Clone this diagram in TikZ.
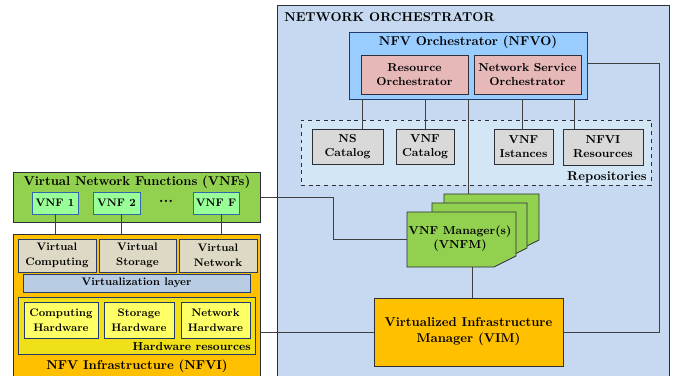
\documentclass[tikz,border=0pt]{standalone}
\definecolor{orchbg}{HTML}{C6D9F0}
\definecolor{nfvocol}{HTML}{99CCFF}
\definecolor{rocol}{HTML}{E6B8B7}
\definecolor{repocol}{HTML}{D3E6F5}
\definecolor{catcol}{HTML}{D9D9D9}
\definecolor{greencol}{HTML}{92D050}
\definecolor{orangecol}{HTML}{FFC000}
\definecolor{vnfcol}{HTML}{99FF99}
\definecolor{virtcol}{HTML}{DDD9C4}
\definecolor{layercol}{HTML}{B8CCE4}
\definecolor{hwrescol}{HTML}{EFE01A}
\definecolor{hwcol}{HTML}{FFFF66}
\definecolor{edgecol}{HTML}{2E2E38}
\definecolor{navy}{HTML}{1F3A6B}
\definecolor{bluedge}{HTML}{3366AA}
\definecolor{linecol}{HTML}{404040}
\newcommand\fsA{\fontsize{9}{11}\selectfont\bfseries}
\newcommand\fsB{\fontsize{8.5}{11.5}\selectfont\bfseries}
\newcommand\fsC{\fontsize{10}{12.5}\selectfont\bfseries}
\begin{document}
\begin{tikzpicture}[x=0.78pt,y=-0.78pt,
  box/.style={draw=edgecol, line width=0.6pt, inner sep=0pt, align=center},
  rect/.style n args={4}{minimum width={(#3-#1)*0.78pt}, minimum height={(#4-#2)*0.78pt},
     at={({(#1+#3)/2},{(#2+#4)/2})}},
  conn/.style={draw=linecol, line width=0.6pt},
  title/.style={inner sep=0pt, font=\fsC}]
\useasboundingbox (0,0) rectangle (678,376);
\clip (0,0) rectangle (678,376);

% ---------- Network orchestrator ----------
\node[box, fill=orchbg, rect={277}{5}{669}{420}] (orch) {};
\node[title, anchor=west] (orchT) at (284,17) {NETWORK ORCHESTRATOR};

\node[box, draw=navy, fill=nfvocol, rect={349}{32}{587}{99}] (nfvo) {};
\node[title] (nfvoT) at (468,42) {NFV Orchestrator (NFVO)};
\node[box, fill=rocol, font=\fsA, rect={361}{55}{468}{94}] (ro) {Resource\\Orchestrator};
\node[box, fill=rocol, font=\fsA, rect={474}{55}{581}{94}] (nso) {Network Service\\Orchestrator};

\node[box, dashed, fill=repocol, rect={301}{120}{651}{185}] (repo) {};
\node[title, anchor=east] (repoT) at (647,177) {Repositories};
\node[box, fill=catcol, font=\fsA, rect={312}{129}{383}{164}] (nsc) {NS\\Catalog};
\node[box, fill=catcol, font=\fsA, rect={396}{129}{454}{164}] (vnfc) {VNF\\Catalog};
\node[box, fill=catcol, font=\fsA, rect={494}{129}{553}{164}] (vnfi) {VNF\\Istances};
\node[box, fill=catcol, font=\fsA, rect={563}{129}{643}{165}] (nfvir) {NFVI\\Resources};

% VNF managers (stacked)
\coordinate (m1) at (468,0);
\draw[conn] (nfvo.south -| m1) -- (468,194);
\filldraw[fill=greencol, draw=edgecol, line width=0.6pt]
  (444,194) -- (539,194) -- (539,240) -- (517,251) -- (444,251) -- cycle;
\filldraw[fill=greencol, draw=edgecol, line width=0.6pt]
  (432,203) -- (527,203) -- (527,248) -- (505,259) -- (432,259) -- cycle;
\filldraw[fill=greencol, draw=edgecol, line width=0.6pt]
  (407,212) -- (516,212) -- (516,256) -- (494,267) -- (407,267) -- cycle;
\node[inner sep=0pt, rect={407}{212}{516}{267}] (vnfm) {};
\node[inner sep=0pt, align=center, font=\fsA] (vnfmT) at (460,239) {VNF Manager(s)\\(VNFM)};

\node[box, fill=orangecol, font=\fsC, rect={374}{298}{563}{366}] (vim) {Virtualized Infrastructure\\Manager (VIM)};

% ---------- VNFs ----------
\node[box, fill=greencol, rect={13}{172}{260}{222}] (vnfs) {};
\node[title] (vnfsT) at (137,182) {Virtual Network Functions (VNFs)};
\node[box, draw=bluedge, fill=vnfcol, font=\fsB, rect={32}{192}{78}{214}] (v1) {VNF 1};
\node[box, draw=bluedge, fill=vnfcol, font=\fsB, rect={93}{192}{140}{214}] (v2) {VNF 2};
\node[inner sep=0pt, font=\fontsize{12}{12}\selectfont\bfseries] (dots) at (166,201) {...};
\node[box, draw=bluedge, fill=vnfcol, font=\fsB, rect={193}{192}{239}{214}] (vf) {VNF F};

% ---------- NFVI ----------
\node[box, fill=orangecol, rect={13}{234}{260}{420}] (nfvi) {};
\node[box, draw=navy, fill=virtcol, font=\fsB, rect={18}{239}{96}{272}] (vc) {Virtual\\Computing};
\node[box, draw=navy, fill=virtcol, font=\fsB, rect={99}{239}{176}{272}] (vs) {Virtual\\Storage};
\node[box, draw=navy, fill=virtcol, font=\fsB, rect={179}{239}{257}{272}] (vn) {Virtual\\Network};
\node[box, draw=navy, fill=layercol, font=\fsB, rect={23}{274}{250}{292}] (vl) {Virtualization layer};
\node[box, draw=navy, fill=hwrescol, rect={18}{297}{255}{354}] (hwr) {};
\node[box, draw=navy, fill=hwcol, font=\fsB, rect={24}{302}{98}{338}] (ch) {Computing\\Hardware};
\node[box, draw=navy, fill=hwcol, font=\fsB, rect={104}{302}{174}{338}] (sh) {Storage\\Hardware};
\node[box, draw=navy, fill=hwcol, font=\fsB, rect={181}{302}{250}{338}] (nh) {Network\\Hardware};
\node[inner sep=0pt, anchor=east, font=\fsA] (hwrT) at (251,347) {Hardware resources};
\node[title] (nfviT) at (137,366) {NFV Infrastructure (NFVI)};

% ---------- connectors ----------
\coordinate (k1) at (362,0);
\coordinate (k2) at (425,0);
\coordinate (k3) at (522,0);
\coordinate (k4) at (574,0);
\draw[conn] (nfvo.south -| k1) -- (nsc.north -| k1);
\draw[conn] (nfvo.south -| k2) -- (vnfc.north -| k2);
\draw[conn] (nfvo.south -| k3) -- (vnfi.north -| k3);
\draw[conn] (nfvo.south -| k4) -- (nfvir.north -| k4);

\coordinate (a1) at (55,0);
\coordinate (a2) at (121,0);
\coordinate (a3) at (221,0);
\draw[conn] (v1.south -| a1) -- (nfvi.north -| a1);
\draw[conn] (v2.south -| a2) -- (nfvi.north -| a2);
\draw[conn] (vf.south -| a3) -- (nfvi.north -| a3);

\coordinate (j1) at (333,0);
\draw[conn] (vnfs.east) -- (vnfs.east -| j1) |- (vnfm.west);
\coordinate (j2) at (472,0);
\draw[conn] (vnfm.south -| j2) -- (vim.north -| j2);
\draw[conn] (nfvi.east |- vim.west) -- (vim.west);
\coordinate (j3) at (659,63);
\draw[conn] (nfvo.east |- j3) -- (j3) |- (vim.east);
\end{tikzpicture}
\end{document}
